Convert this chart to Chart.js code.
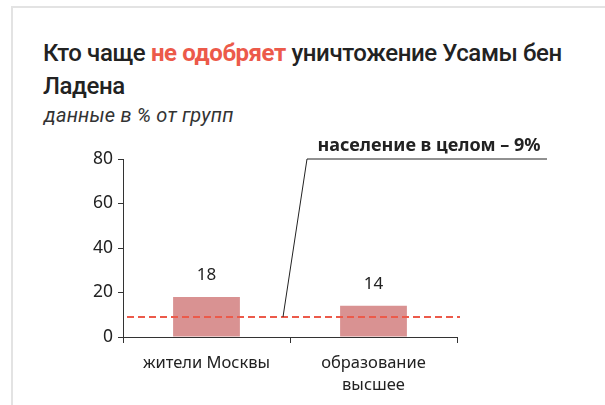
<!DOCTYPE html>
<html>
<head>
<meta charset="utf-8">
<script src="https://cdn.jsdelivr.net/npm/chart.js@4"></script>
<style>
    html, body { margin: 0; padding: 0; background: #fff; }
    body { width: 605px; height: 405px; position: relative; overflow: hidden; font-family: 'Roboto', sans-serif; }
    .card { position: absolute; left: 11px; top: 6px; width: 593px; height: 420px;
            border-top: 2px solid #e3e3e3; border-left: 2px solid #e3e3e3; border-right: 1px solid #f0f0f0; }
    .title { position: absolute; left: 43px; top: 37px; font-size: 24px; font-weight: 500;
             line-height: 33px; color: #222; letter-spacing: -0.4px; white-space: nowrap; }
    .title .red { color: #ec5a4a; font-weight: 700; }
    .subtitle { position: absolute; left: 44px; top: 103px; font-size: 20px; font-style: italic;
                color: #333; letter-spacing: 0.2px; }
    .chart-box { position: absolute; left: 0; top: 130px; width: 605px; height: 275px; }
</style>
</head>
<body>
<div class="card"></div>
<div class="title">Кто чаще <span class="red">не одобряет</span> уничтожение Усамы бен<br>Ладена</div>
<div class="subtitle">данные в % от групп</div>
<div class="chart-box"><canvas id="chart"></canvas></div>
<script>
// Данные
let categories = ['жители Москвы', ['образование', 'высшее']];
let values = [18, 14];
let populationAvg = 9;
let populationLabel = 'население в целом – 9%';
let yTicks = [0, 20, 40, 60, 80];

let canvas = document.getElementById('chart');
let context = canvas.getContext('2d');

// Рисуем подписи значений, среднюю линию и выноску
const overlayPlugin = {
    id: 'overlay',
    afterDatasetsDraw(chart) {
        let ctx = chart.ctx;
        let area = chart.chartArea;
        let yScale = chart.scales.y;
        let meta = chart.getDatasetMeta(0);
        let yAvg = yScale.getPixelForValue(populationAvg);

        // подписи над столбиками
        ctx.save();
        ctx.fillStyle = '#222';
        ctx.font = '17px "Noto Sans"';
        ctx.textAlign = 'center';
        ctx.textBaseline = 'middle';
        meta.data.forEach((bar, i) => {
            ctx.fillText(values[i], bar.x, bar.y - 22);
        });
        ctx.restore();

        // пунктир — население в целом
        ctx.save();
        ctx.strokeStyle = '#ec5a4a';
        ctx.lineWidth = 2;
        ctx.setLineDash([7, 4]);
        ctx.beginPath();
        ctx.moveTo(area.left + 4, yAvg);
        ctx.lineTo(area.right + 3, yAvg);
        ctx.stroke();
        ctx.restore();

        // выноска
        let midX = (meta.data[0].x + meta.data[1].x) / 2;
        let topY = yScale.getPixelForValue(80);
        ctx.save();
        ctx.strokeStyle = '#222';
        ctx.lineWidth = 1;
        ctx.beginPath();
        ctx.moveTo(midX - 7, yAvg);
        ctx.lineTo(midX + 17, topY);
        ctx.lineTo(area.right + 90, topY);
        ctx.stroke();
        ctx.fillStyle = '#222';
        ctx.font = 'bold 18px "Noto Sans"';
        ctx.textAlign = 'center';
        ctx.textBaseline = 'alphabetic';
        ctx.fillText(populationLabel, area.right - 28, topY - 8);
        ctx.restore();
    }
};

let config = {
    type: 'bar',
    data: {
        labels: categories,
        datasets: [{
            data: values,
            backgroundColor: '#d99292',
            borderWidth: 0,
            categoryPercentage: 0.8,
            barPercentage: 0.5
        }]
    },
    options: {
        responsive: true,
        maintainAspectRatio: false,
        animation: false,
        layout: { padding: { left: 0, right: 148, top: 29, bottom: 0 } },
        plugins: {
            legend: { display: false },
            tooltip: { enabled: false }
        },
        scales: {
            x: {
                grid: { drawOnChartArea: false, tickLength: 6, color: '#333', offset: true },
                border: { color: '#333' },
                ticks: {
                    color: '#222',
                    font: { family: 'Noto Sans', size: 16.5, lineHeight: 1.33 },
                    padding: 9,
                    maxRotation: 0
                },
                afterFit: (scale) => { scale.height = 68; }
            },
            y: {
                min: 0,
                max: 80,
                grid: { drawOnChartArea: false, tickLength: 5, color: '#333' },
                border: { color: '#333' },
                ticks: {
                    stepSize: 20,
                    color: '#222',
                    padding: 5,
                    font: { family: 'Noto Sans', size: 17.5 }
                },
                afterBuildTicks: (scale) => { scale.ticks = yTicks.map(v => ({ value: v })); },
                afterFit: (scale) => { scale.width = 123; }
            }
        }
    },
    plugins: [overlayPlugin]
};

let chart = new Chart(context, config);
</script>
</body>
</html>
